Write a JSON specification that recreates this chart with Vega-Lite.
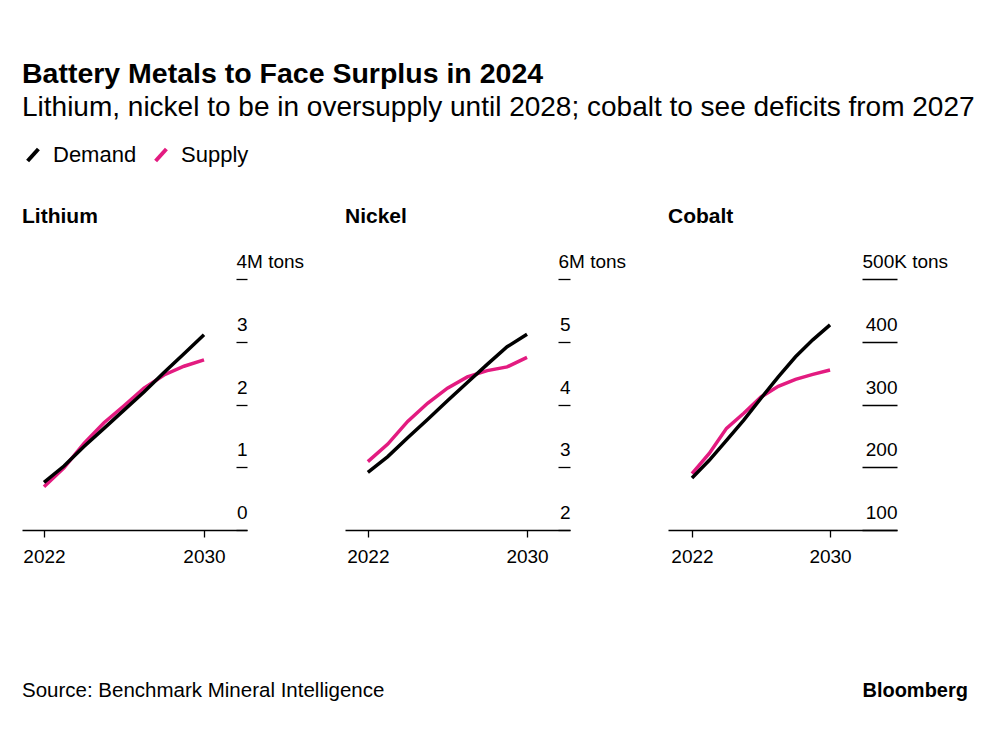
{
  "$schema": "https://vega.github.io/schema/vega-lite/v6.json",
  "background": "white",
  "padding": {"left": 22, "top": 59, "right": 10, "bottom": 10},
  "title": {
    "text": "Battery Metals to Face Surplus in 2024",
    "subtitle": "Lithium, nickel to be in oversupply until 2028; cobalt to see deficits from 2027",
    "anchor": "start",
    "font": "Liberation Sans",
    "fontSize": 28.5,
    "fontWeight": "bold",
    "color": "#000000",
    "subtitleFont": "Liberation Sans",
    "subtitleFontSize": 28,
    "subtitleColor": "#000000",
    "subtitlePadding": 6,
    "offset": 22
  },
  "data": {
    "values": [
      {"metal": "Lithium", "series": "Demand", "year": 2022, "value": 0.76},
      {"metal": "Lithium", "series": "Demand", "year": 2023, "value": 1.02},
      {"metal": "Lithium", "series": "Demand", "year": 2024, "value": 1.33},
      {"metal": "Lithium", "series": "Demand", "year": 2025, "value": 1.62},
      {"metal": "Lithium", "series": "Demand", "year": 2026, "value": 1.91},
      {"metal": "Lithium", "series": "Demand", "year": 2027, "value": 2.2},
      {"metal": "Lithium", "series": "Demand", "year": 2028, "value": 2.51},
      {"metal": "Lithium", "series": "Demand", "year": 2029, "value": 2.81},
      {"metal": "Lithium", "series": "Demand", "year": 2030, "value": 3.11},
      {"metal": "Lithium", "series": "Supply", "year": 2022, "value": 0.69},
      {"metal": "Lithium", "series": "Supply", "year": 2023, "value": 0.99},
      {"metal": "Lithium", "series": "Supply", "year": 2024, "value": 1.38},
      {"metal": "Lithium", "series": "Supply", "year": 2025, "value": 1.71},
      {"metal": "Lithium", "series": "Supply", "year": 2026, "value": 1.98},
      {"metal": "Lithium", "series": "Supply", "year": 2027, "value": 2.26},
      {"metal": "Lithium", "series": "Supply", "year": 2028, "value": 2.47},
      {"metal": "Lithium", "series": "Supply", "year": 2029, "value": 2.61},
      {"metal": "Lithium", "series": "Supply", "year": 2030, "value": 2.71},
      {"metal": "Nickel", "series": "Demand", "year": 2022, "value": 2.92},
      {"metal": "Nickel", "series": "Demand", "year": 2023, "value": 3.17},
      {"metal": "Nickel", "series": "Demand", "year": 2024, "value": 3.47},
      {"metal": "Nickel", "series": "Demand", "year": 2025, "value": 3.76},
      {"metal": "Nickel", "series": "Demand", "year": 2026, "value": 4.06},
      {"metal": "Nickel", "series": "Demand", "year": 2027, "value": 4.35},
      {"metal": "Nickel", "series": "Demand", "year": 2028, "value": 4.64},
      {"metal": "Nickel", "series": "Demand", "year": 2029, "value": 4.92},
      {"metal": "Nickel", "series": "Demand", "year": 2030, "value": 5.12},
      {"metal": "Nickel", "series": "Supply", "year": 2022, "value": 3.09},
      {"metal": "Nickel", "series": "Supply", "year": 2023, "value": 3.37},
      {"metal": "Nickel", "series": "Supply", "year": 2024, "value": 3.73},
      {"metal": "Nickel", "series": "Supply", "year": 2025, "value": 4.02},
      {"metal": "Nickel", "series": "Supply", "year": 2026, "value": 4.26},
      {"metal": "Nickel", "series": "Supply", "year": 2027, "value": 4.44},
      {"metal": "Nickel", "series": "Supply", "year": 2028, "value": 4.54},
      {"metal": "Nickel", "series": "Supply", "year": 2029, "value": 4.6},
      {"metal": "Nickel", "series": "Supply", "year": 2030, "value": 4.75},
      {"metal": "Cobalt", "series": "Demand", "year": 2022, "value": 183},
      {"metal": "Cobalt", "series": "Demand", "year": 2023, "value": 211},
      {"metal": "Cobalt", "series": "Demand", "year": 2024, "value": 243},
      {"metal": "Cobalt", "series": "Demand", "year": 2025, "value": 275},
      {"metal": "Cobalt", "series": "Demand", "year": 2026, "value": 310},
      {"metal": "Cobalt", "series": "Demand", "year": 2027, "value": 344},
      {"metal": "Cobalt", "series": "Demand", "year": 2028, "value": 376},
      {"metal": "Cobalt", "series": "Demand", "year": 2029, "value": 403},
      {"metal": "Cobalt", "series": "Demand", "year": 2030, "value": 427},
      {"metal": "Cobalt", "series": "Supply", "year": 2022, "value": 190},
      {"metal": "Cobalt", "series": "Supply", "year": 2023, "value": 222},
      {"metal": "Cobalt", "series": "Supply", "year": 2024, "value": 262},
      {"metal": "Cobalt", "series": "Supply", "year": 2025, "value": 286},
      {"metal": "Cobalt", "series": "Supply", "year": 2026, "value": 312},
      {"metal": "Cobalt", "series": "Supply", "year": 2027, "value": 329},
      {"metal": "Cobalt", "series": "Supply", "year": 2028, "value": 340},
      {"metal": "Cobalt", "series": "Supply", "year": 2029, "value": 348},
      {"metal": "Cobalt", "series": "Supply", "year": 2030, "value": 355}
    ]
  },
  "spacing": 115,
  "vconcat": [
    {
      "bounds": "flush",
      "spacing": 98,
      "hconcat": [
        {
          "width": 225,
          "height": 251,
          "title": {"text": "Lithium", "anchor": "start", "fontSize": 21, "fontWeight": "bold", "font": "Liberation Sans", "color": "#000000", "offset": 26},
          "transform": [{"filter": "datum.metal == 'Lithium'"}],
          "encoding": {
            "x": {"field": "year", "type": "quantitative", "scale": {"domain": [2020.9, 2032.15], "nice": false, "zero": false},
              "axis": {"values": [2022, 2030], "format": "d", "tickSize": 7, "labelPadding": 10, "title": null}},
            "y": {"field": "value", "type": "quantitative", "scale": {"domain": [0, 4], "nice": false, "zero": false},
              "axis": {"orient": "right", "values": [0, 1, 2, 3, 4], "domain": false, "tickSize": -11, "title": null,
                "labelPadding": {"condition": {"test": "datum.value == 4", "value": 0}, "value": 11},
                "labelAlign": {"condition": {"test": "datum.value == 4", "value": "left"}, "value": "right"},
                "labelBaseline": "alphabetic", "labelOffset": -11.5,
                "labelExpr": "datum.value == 4 ? '4M tons' : datum.label"}},
            "color": {"field": "series", "type": "nominal", "scale": {"domain": ["Demand", "Supply"], "range": ["#000000", "#e31b80"]}}
          },
          "layer": [
            {"transform": [{"filter": "datum.series == 'Supply'"}], "mark": {"type": "line", "strokeWidth": 3.5}},
            {"transform": [{"filter": "datum.series == 'Demand'"}], "mark": {"type": "line", "strokeWidth": 3.5}}
          ]
        },
        {
          "width": 225,
          "height": 251,
          "title": {"text": "Nickel", "anchor": "start", "fontSize": 21, "fontWeight": "bold", "font": "Liberation Sans", "color": "#000000", "offset": 26},
          "transform": [{"filter": "datum.metal == 'Nickel'"}],
          "encoding": {
            "x": {"field": "year", "type": "quantitative", "scale": {"domain": [2020.85, 2032.16], "nice": false, "zero": false},
              "axis": {"values": [2022, 2030], "format": "d", "tickSize": 7, "labelPadding": 10, "title": null}},
            "y": {"field": "value", "type": "quantitative", "scale": {"domain": [2, 6], "nice": false, "zero": false},
              "axis": {"orient": "right", "values": [2, 3, 4, 5, 6], "domain": false, "tickSize": -12, "title": null,
                "labelPadding": {"condition": {"test": "datum.value == 6", "value": 0}, "value": 12},
                "labelAlign": {"condition": {"test": "datum.value == 6", "value": "left"}, "value": "right"},
                "labelBaseline": "alphabetic", "labelOffset": -11.5,
                "labelExpr": "datum.value == 6 ? '6M tons' : datum.label"}},
            "color": {"field": "series", "type": "nominal", "scale": {"domain": ["Demand", "Supply"], "range": ["#000000", "#e31b80"]}}
          },
          "layer": [
            {"transform": [{"filter": "datum.series == 'Supply'"}], "mark": {"type": "line", "strokeWidth": 3.5}},
            {"transform": [{"filter": "datum.series == 'Demand'"}], "mark": {"type": "line", "strokeWidth": 3.5}}
          ]
        },
        {
          "width": 229,
          "height": 251,
          "title": {"text": "Cobalt", "anchor": "start", "fontSize": 21, "fontWeight": "bold", "font": "Liberation Sans", "color": "#000000", "offset": 26},
          "transform": [{"filter": "datum.metal == 'Cobalt'"}],
          "encoding": {
            "x": {"field": "year", "type": "quantitative", "scale": {"domain": [2020.61, 2033.88], "nice": false, "zero": false},
              "axis": {"values": [2022, 2030], "format": "d", "tickSize": 7, "labelPadding": 10, "title": null}},
            "y": {"field": "value", "type": "quantitative", "scale": {"domain": [100, 500], "nice": false, "zero": false},
              "axis": {"orient": "right", "values": [100, 200, 300, 400, 500], "domain": false, "tickSize": -35, "title": null,
                "labelPadding": {"condition": {"test": "datum.value == 500", "value": 0}, "value": 35},
                "labelAlign": {"condition": {"test": "datum.value == 500", "value": "left"}, "value": "right"},
                "labelBaseline": "alphabetic", "labelOffset": -11.5,
                "labelExpr": "datum.value == 500 ? '500K tons' : datum.label"}},
            "color": {"field": "series", "type": "nominal", "scale": {"domain": ["Demand", "Supply"], "range": ["#000000", "#e31b80"]}}
          },
          "layer": [
            {"transform": [{"filter": "datum.series == 'Supply'"}], "mark": {"type": "line", "strokeWidth": 3.5}},
            {"transform": [{"filter": "datum.series == 'Demand'"}], "mark": {"type": "line", "strokeWidth": 3.5}}
          ]
        }
      ]
    },
    {
      "width": 946,
      "height": 20,
      "data": {"values": [
        {"side": "left", "note": "Source: Benchmark Mineral Intelligence"},
        {"side": "right", "note": "Bloomberg"}
      ]},
      "encoding": {
        "x": {"field": "side", "type": "nominal", "scale": {"type": "point", "padding": 0}, "axis": null},
        "text": {"field": "note", "type": "nominal"}
      },
      "layer": [
        {"transform": [{"filter": "datum.side == 'left'"}], "mark": {"type": "text", "align": "left", "baseline": "middle", "font": "Liberation Sans", "fontSize": 20.5, "color": "#000000"}},
        {"transform": [{"filter": "datum.side == 'right'"}], "mark": {"type": "text", "align": "right", "baseline": "middle", "font": "Liberation Sans", "fontSize": 20, "fontWeight": "bold", "color": "#000000"}}
      ]
    }
  ],
  "config": {
    "font": "Liberation Sans",
    "view": {"stroke": null},
    "axis": {
      "grid": false,
      "labelFont": "Liberation Sans",
      "labelFontSize": 19,
      "labelColor": "#000000",
      "domainColor": "#000000",
      "domainWidth": 1.3,
      "tickColor": "#000000",
      "tickWidth": 1.3
    },
    "legend": {
      "orient": "top",
      "direction": "horizontal",
      "title": null,
      "labelFont": "Liberation Sans",
      "labelFontSize": 22,
      "labelColor": "#000000",
      "symbolType": "M-0.9,1L0.9,-1",
      "symbolSize": 144,
      "symbolStrokeWidth": 4,
      "columnPadding": 10,
      "labelOffset": 9,
      "offset": 36,
      "padding": 0
    }
  }
}
